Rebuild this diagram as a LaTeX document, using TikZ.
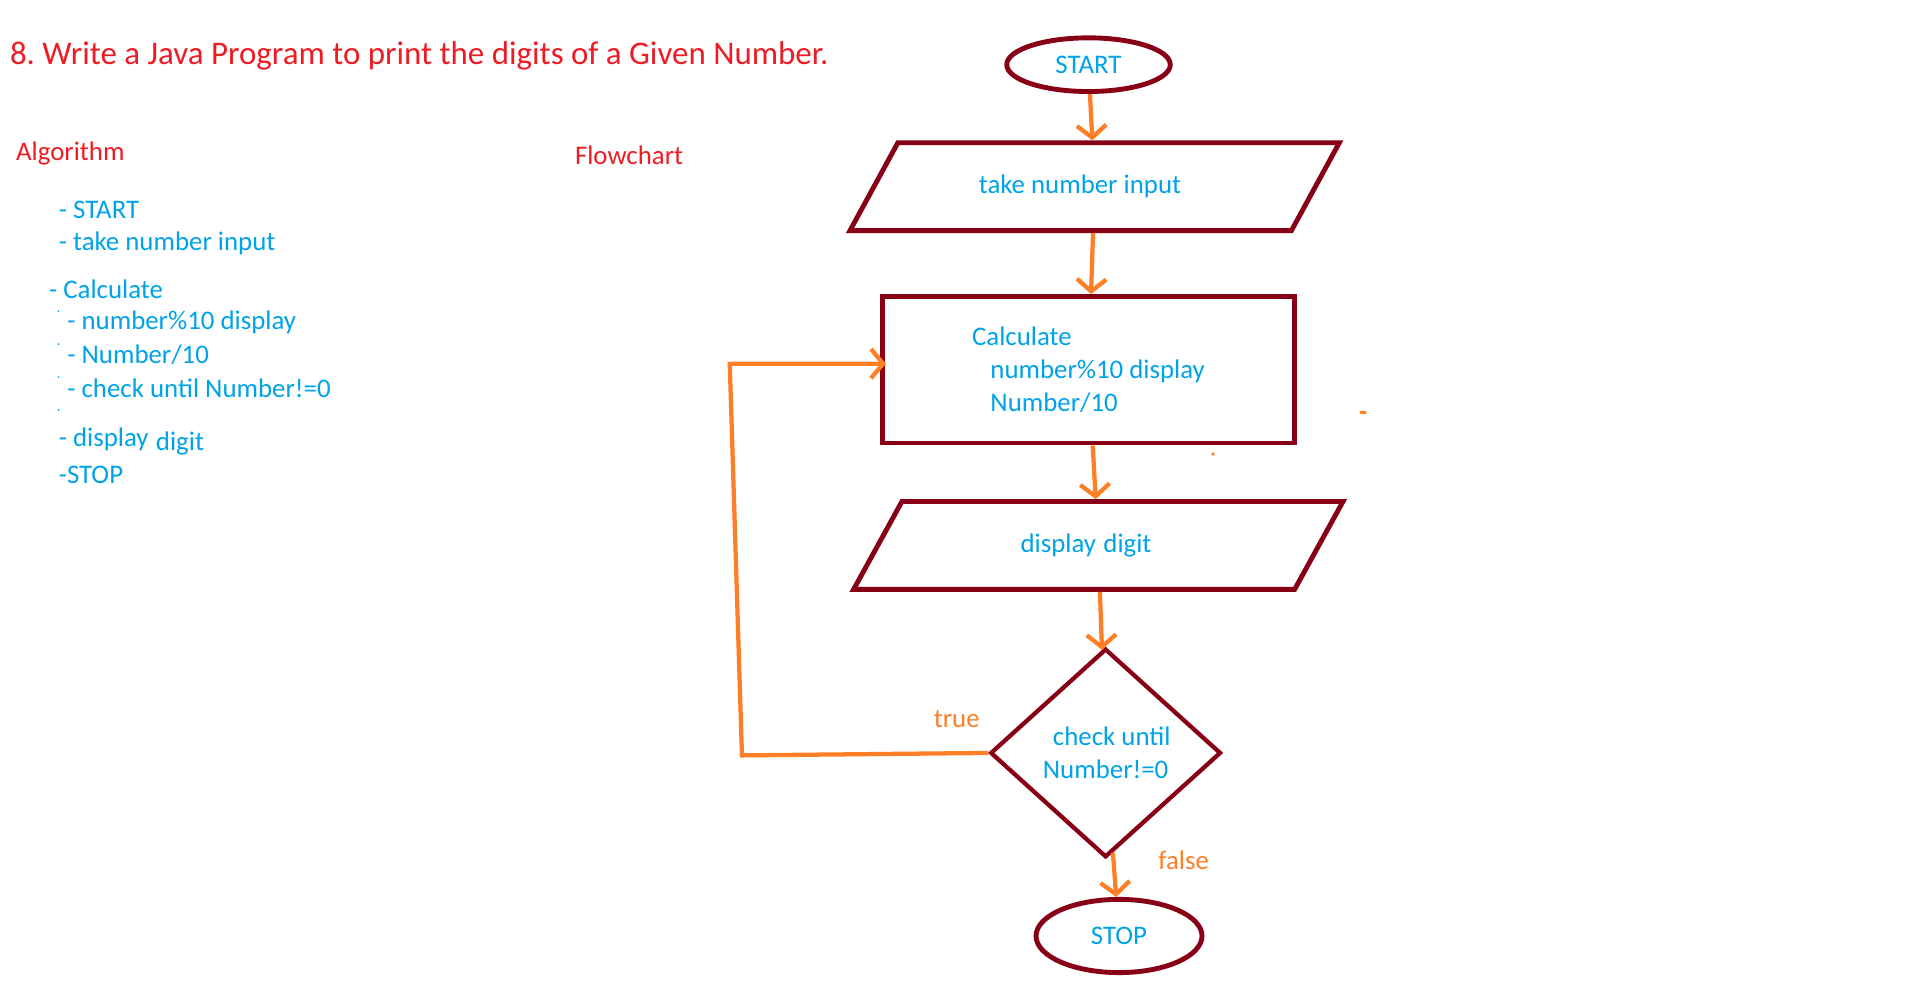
\documentclass[tikz,border=0pt]{standalone}
\usepackage{fontspec}
\setmainfont{Carlito}
\frenchspacing
\usetikzlibrary{arrows.meta,positioning,shapes.geometric}
\definecolor{darkred}{RGB}{136,0,21}
\definecolor{flowor}{RGB}{255,127,39}
\definecolor{txtblue}{RGB}{0,162,232}
\definecolor{headred}{RGB}{237,28,36}
\tikzset{
  term/.style={ellipse,draw=darkred,line width=4pt,text=txtblue,inner sep=0pt},
  io/.style={trapezium,trapezium left angle=33,trapezium right angle=147,trapezium stretches body=true,
    draw=darkred,line width=4pt,text=txtblue,minimum height=72pt,minimum width=401pt},
  proc/.style={rectangle,draw=darkred,line width=4pt,text=txtblue,minimum width=338pt,minimum height=120pt},
  dec/.style={diamond,draw=darkred,line width=3.5pt,text=txtblue,minimum width=189pt,minimum height=171pt,inner sep=0pt},
  flow/.style={draw=flowor,line width=3.5pt,-{Straight Barb[length=10pt,width=24pt]}},
  algo/.style={anchor=west,text=txtblue,inner sep=0pt},
  head/.style={anchor=west,text=headred,inner sep=0pt},
}
\begin{document}
\begin{tikzpicture}[x=1pt,y=-1pt,font=\fontsize{22}{27}\selectfont]
\useasboundingbox (0,0) rectangle (1566,815);
% headings
\node (title) [head,font=\fontsize{27}{32}\selectfont] at (8,46) {8. Write a Java Program to print the digits of a Given Number.};
\node (alghead) [head] at (13,126) {Algorithm};
\node (flowhead) [head] at (471,127) {Flowchart};
% algorithm steps
\node (a1) [algo] at (48,172) {- START};
\node (a2) [algo] at (48,199) {- take number input};
\node (a3) [algo] at (40,237) {- Calculate};
\node (a4) [algo] at (55,264) {- number\%10 display};
\node (a5) [algo] at (55,291) {- Number/10};
\node (a6) [algo] at (55,318) {- check until Number!=0};
\node (a7) [algo] at (48,362) {- display\hspace{6pt}\raisebox{-3pt}{digit}};
\node (a8) [algo] at (48,389) {-STOP};
\foreach \y in {255,282,309,336}
  \fill[txtblue] (48,\y) circle (0.8pt);
% flowchart
\node (start) [term,minimum width=134pt,minimum height=44pt] at (892,53) {START};
\node (input) [io] at (897,153) {\hspace{-24pt}take number input};
\node (calc) [proc,align=left] at (892,303) {Calculate\\\hspace{15pt}number\%10 display\\\hspace{15pt}Number/10};
\node (show) [io] at (900,447) {\hspace{-20pt}display\hspace{6pt}digit};
\node (check) [dec,align=center] at (906,617) {\hspace{10pt}check until\\Number!=0};
\node (stop) [term,minimum width=136pt,minimum height=60pt] at (917,767) {STOP};
\coordinate (lb) at (608,619);
\coordinate (lt) at (598,298);
%
\path[flow] (start) edge (input);
\path[flow] (input) edge (calc);
\path[flow] (calc) edge (show);
\path[flow] (show) edge (check);
\path[flow] (check) edge (stop);
\draw[flow] (check.west) -- (lb) -- (lt) -- ([xshift=5pt]lt -| calc.west);
\node (yes) [text=flowor] at (784,589) {true};
\node (no) [text=flowor] at (970,705) {false};
% stray marks
\fill[flowor] (1117,338) ellipse (3pt and 1.5pt);
\fill[flowor] (994,372) circle (1.5pt);
\end{tikzpicture}
\end{document}
